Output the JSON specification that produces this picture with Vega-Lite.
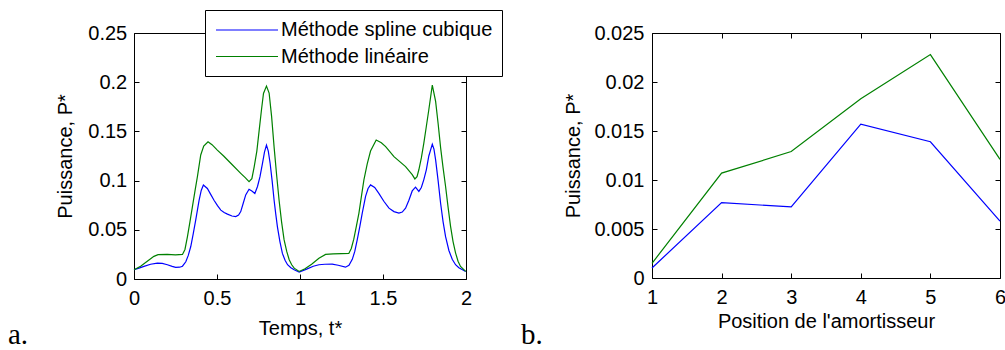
{
  "$schema": "https://vega.github.io/schema/vega-lite/v6.json",
  "padding": {"left": 7, "top": 9, "right": 0, "bottom": 0},
  "spacing": 186,
  "bounds": "flush",
  "config": {
    "font": "Liberation Sans",
    "view": {"stroke": "black", "strokeWidth": 1},
    "axis": {
      "labelFont": "Liberation Sans", "labelFontSize": 20, "labelColor": "black",
      "titleFont": "Liberation Sans", "titleFontSize": 20, "titleFontWeight": "normal", "titleColor": "black",
      "tickColor": "black", "tickSize": -5, "tickWidth": 1,
      "domain": false, "grid": false, "labelFlush": false, "labelOverlap": false
    },
    "line": {"strokeWidth": 1.2}
  },
  "datasets": {
    "a": [
      {"t":0.000,"methode":"Méthode linéaire","P":0.0094},
      {"t":0.040,"methode":"Méthode linéaire","P":0.0130},
      {"t":0.080,"methode":"Méthode linéaire","P":0.0180},
      {"t":0.120,"methode":"Méthode linéaire","P":0.0230},
      {"t":0.145,"methode":"Méthode linéaire","P":0.0248},
      {"t":0.200,"methode":"Méthode linéaire","P":0.0250},
      {"t":0.250,"methode":"Méthode linéaire","P":0.0246},
      {"t":0.292,"methode":"Méthode linéaire","P":0.0250},
      {"t":0.307,"methode":"Méthode linéaire","P":0.0300},
      {"t":0.322,"methode":"Méthode linéaire","P":0.0430},
      {"t":0.337,"methode":"Méthode linéaire","P":0.0580},
      {"t":0.352,"methode":"Méthode linéaire","P":0.0736},
      {"t":0.367,"methode":"Méthode linéaire","P":0.0890},
      {"t":0.382,"methode":"Méthode linéaire","P":0.1040},
      {"t":0.402,"methode":"Méthode linéaire","P":0.1260},
      {"t":0.420,"methode":"Méthode linéaire","P":0.1350},
      {"t":0.446,"methode":"Méthode linéaire","P":0.1395},
      {"t":0.470,"methode":"Méthode linéaire","P":0.1365},
      {"t":0.502,"methode":"Méthode linéaire","P":0.1310},
      {"t":0.540,"methode":"Méthode linéaire","P":0.1250},
      {"t":0.583,"methode":"Méthode linéaire","P":0.1176},
      {"t":0.643,"methode":"Méthode linéaire","P":0.1074},
      {"t":0.670,"methode":"Méthode linéaire","P":0.1030},
      {"t":0.693,"methode":"Méthode linéaire","P":0.0990},
      {"t":0.710,"methode":"Méthode linéaire","P":0.1020},
      {"t":0.724,"methode":"Méthode linéaire","P":0.1140},
      {"t":0.740,"methode":"Méthode linéaire","P":0.1300},
      {"t":0.754,"methode":"Méthode linéaire","P":0.1510},
      {"t":0.768,"methode":"Méthode linéaire","P":0.1720},
      {"t":0.780,"methode":"Méthode linéaire","P":0.1886},
      {"t":0.798,"methode":"Méthode linéaire","P":0.1960},
      {"t":0.814,"methode":"Méthode linéaire","P":0.1890},
      {"t":0.829,"methode":"Méthode linéaire","P":0.1650},
      {"t":0.844,"methode":"Méthode linéaire","P":0.1340},
      {"t":0.859,"methode":"Méthode linéaire","P":0.1060},
      {"t":0.874,"methode":"Méthode linéaire","P":0.0800},
      {"t":0.889,"methode":"Méthode linéaire","P":0.0580},
      {"t":0.904,"methode":"Méthode linéaire","P":0.0400},
      {"t":0.920,"methode":"Méthode linéaire","P":0.0280},
      {"t":0.935,"methode":"Méthode linéaire","P":0.0196},
      {"t":0.950,"methode":"Méthode linéaire","P":0.0145},
      {"t":0.965,"methode":"Méthode linéaire","P":0.0110},
      {"t":0.995,"methode":"Méthode linéaire","P":0.0077},
      {"t":1.030,"methode":"Méthode linéaire","P":0.0105},
      {"t":1.070,"methode":"Méthode linéaire","P":0.0150},
      {"t":1.114,"methode":"Méthode linéaire","P":0.0210},
      {"t":1.154,"methode":"Méthode linéaire","P":0.0250},
      {"t":1.200,"methode":"Méthode linéaire","P":0.0255},
      {"t":1.250,"methode":"Méthode linéaire","P":0.0258},
      {"t":1.294,"methode":"Méthode linéaire","P":0.0260},
      {"t":1.309,"methode":"Méthode linéaire","P":0.0310},
      {"t":1.324,"methode":"Méthode linéaire","P":0.0405},
      {"t":1.340,"methode":"Méthode linéaire","P":0.0540},
      {"t":1.355,"methode":"Méthode linéaire","P":0.0670},
      {"t":1.370,"methode":"Méthode linéaire","P":0.0840},
      {"t":1.385,"methode":"Méthode linéaire","P":0.1007},
      {"t":1.405,"methode":"Méthode linéaire","P":0.1170},
      {"t":1.425,"methode":"Méthode linéaire","P":0.1300},
      {"t":1.459,"methode":"Méthode linéaire","P":0.1412},
      {"t":1.490,"methode":"Méthode linéaire","P":0.1385},
      {"t":1.516,"methode":"Méthode linéaire","P":0.1345},
      {"t":1.566,"methode":"Méthode linéaire","P":0.1243},
      {"t":1.636,"methode":"Méthode linéaire","P":0.1142},
      {"t":1.676,"methode":"Méthode linéaire","P":0.1060},
      {"t":1.692,"methode":"Méthode linéaire","P":0.1017},
      {"t":1.705,"methode":"Méthode linéaire","P":0.1040},
      {"t":1.716,"methode":"Méthode linéaire","P":0.1110},
      {"t":1.731,"methode":"Méthode linéaire","P":0.1230},
      {"t":1.746,"methode":"Méthode linéaire","P":0.1380},
      {"t":1.761,"methode":"Méthode linéaire","P":0.1550},
      {"t":1.776,"methode":"Méthode linéaire","P":0.1720},
      {"t":1.797,"methode":"Méthode linéaire","P":0.1970},
      {"t":1.817,"methode":"Méthode linéaire","P":0.1805},
      {"t":1.832,"methode":"Méthode linéaire","P":0.1580},
      {"t":1.847,"methode":"Méthode linéaire","P":0.1335},
      {"t":1.862,"methode":"Méthode linéaire","P":0.1130},
      {"t":1.877,"methode":"Méthode linéaire","P":0.0940},
      {"t":1.892,"methode":"Méthode linéaire","P":0.0730},
      {"t":1.907,"methode":"Méthode linéaire","P":0.0535},
      {"t":1.922,"methode":"Méthode linéaire","P":0.0380},
      {"t":1.937,"methode":"Méthode linéaire","P":0.0266},
      {"t":1.952,"methode":"Méthode linéaire","P":0.0180},
      {"t":1.967,"methode":"Méthode linéaire","P":0.0128},
      {"t":1.998,"methode":"Méthode linéaire","P":0.0077},
      {"t":0.000,"methode":"Méthode spline cubique","P":0.0094},
      {"t":0.030,"methode":"Méthode spline cubique","P":0.0110},
      {"t":0.060,"methode":"Méthode spline cubique","P":0.0128},
      {"t":0.100,"methode":"Méthode spline cubique","P":0.0150},
      {"t":0.141,"methode":"Méthode spline cubique","P":0.0162},
      {"t":0.170,"methode":"Méthode spline cubique","P":0.0158},
      {"t":0.201,"methode":"Méthode spline cubique","P":0.0145},
      {"t":0.230,"methode":"Méthode spline cubique","P":0.0128},
      {"t":0.251,"methode":"Méthode spline cubique","P":0.0118},
      {"t":0.275,"methode":"Méthode spline cubique","P":0.0120},
      {"t":0.292,"methode":"Méthode spline cubique","P":0.0130},
      {"t":0.312,"methode":"Méthode spline cubique","P":0.0175},
      {"t":0.327,"methode":"Méthode spline cubique","P":0.0240},
      {"t":0.342,"methode":"Méthode spline cubique","P":0.0330},
      {"t":0.357,"methode":"Méthode spline cubique","P":0.0460},
      {"t":0.372,"methode":"Méthode spline cubique","P":0.0600},
      {"t":0.392,"methode":"Méthode spline cubique","P":0.0800},
      {"t":0.405,"methode":"Méthode spline cubique","P":0.0900},
      {"t":0.418,"methode":"Méthode spline cubique","P":0.0956},
      {"t":0.442,"methode":"Méthode spline cubique","P":0.0920},
      {"t":0.462,"methode":"Méthode spline cubique","P":0.0860},
      {"t":0.482,"methode":"Méthode spline cubique","P":0.0800},
      {"t":0.503,"methode":"Méthode spline cubique","P":0.0745},
      {"t":0.523,"methode":"Méthode spline cubique","P":0.0700},
      {"t":0.543,"methode":"Méthode spline cubique","P":0.0675},
      {"t":0.563,"methode":"Méthode spline cubique","P":0.0659},
      {"t":0.590,"methode":"Méthode spline cubique","P":0.0640},
      {"t":0.613,"methode":"Méthode spline cubique","P":0.0635},
      {"t":0.630,"methode":"Méthode spline cubique","P":0.0650},
      {"t":0.643,"methode":"Méthode spline cubique","P":0.0685},
      {"t":0.658,"methode":"Méthode spline cubique","P":0.0770},
      {"t":0.673,"methode":"Méthode spline cubique","P":0.0855},
      {"t":0.693,"methode":"Méthode spline cubique","P":0.0912},
      {"t":0.710,"methode":"Méthode spline cubique","P":0.0895},
      {"t":0.728,"methode":"Méthode spline cubique","P":0.0870},
      {"t":0.744,"methode":"Méthode spline cubique","P":0.0940},
      {"t":0.759,"methode":"Méthode spline cubique","P":0.1040},
      {"t":0.774,"methode":"Méthode spline cubique","P":0.1176},
      {"t":0.786,"methode":"Méthode spline cubique","P":0.1290},
      {"t":0.798,"methode":"Méthode spline cubique","P":0.1360},
      {"t":0.809,"methode":"Méthode spline cubique","P":0.1300},
      {"t":0.820,"methode":"Méthode spline cubique","P":0.1176},
      {"t":0.832,"methode":"Méthode spline cubique","P":0.1000},
      {"t":0.844,"methode":"Méthode spline cubique","P":0.0800},
      {"t":0.854,"methode":"Méthode spline cubique","P":0.0660},
      {"t":0.864,"methode":"Méthode spline cubique","P":0.0530},
      {"t":0.879,"methode":"Méthode spline cubique","P":0.0380},
      {"t":0.894,"methode":"Méthode spline cubique","P":0.0260},
      {"t":0.910,"methode":"Méthode spline cubique","P":0.0190},
      {"t":0.925,"methode":"Méthode spline cubique","P":0.0145},
      {"t":0.945,"methode":"Méthode spline cubique","P":0.0115},
      {"t":0.965,"methode":"Méthode spline cubique","P":0.0094},
      {"t":0.995,"methode":"Méthode spline cubique","P":0.0070},
      {"t":1.040,"methode":"Méthode spline cubique","P":0.0100},
      {"t":1.080,"methode":"Méthode spline cubique","P":0.0130},
      {"t":1.114,"methode":"Méthode spline cubique","P":0.0145},
      {"t":1.150,"methode":"Méthode spline cubique","P":0.0150},
      {"t":1.194,"methode":"Méthode spline cubique","P":0.0152},
      {"t":1.230,"methode":"Méthode spline cubique","P":0.0140},
      {"t":1.274,"methode":"Méthode spline cubique","P":0.0120},
      {"t":1.295,"methode":"Méthode spline cubique","P":0.0140},
      {"t":1.315,"methode":"Méthode spline cubique","P":0.0200},
      {"t":1.330,"methode":"Méthode spline cubique","P":0.0280},
      {"t":1.345,"methode":"Méthode spline cubique","P":0.0400},
      {"t":1.360,"methode":"Méthode spline cubique","P":0.0530},
      {"t":1.375,"methode":"Méthode spline cubique","P":0.0670},
      {"t":1.395,"methode":"Méthode spline cubique","P":0.0840},
      {"t":1.410,"methode":"Méthode spline cubique","P":0.0920},
      {"t":1.425,"methode":"Méthode spline cubique","P":0.0956},
      {"t":1.450,"methode":"Méthode spline cubique","P":0.0930},
      {"t":1.475,"methode":"Méthode spline cubique","P":0.0870},
      {"t":1.505,"methode":"Méthode spline cubique","P":0.0790},
      {"t":1.536,"methode":"Méthode spline cubique","P":0.0720},
      {"t":1.566,"methode":"Méthode spline cubique","P":0.0685},
      {"t":1.596,"methode":"Méthode spline cubique","P":0.0670},
      {"t":1.616,"methode":"Méthode spline cubique","P":0.0680},
      {"t":1.636,"methode":"Méthode spline cubique","P":0.0720},
      {"t":1.656,"methode":"Méthode spline cubique","P":0.0800},
      {"t":1.676,"methode":"Méthode spline cubique","P":0.0895},
      {"t":1.696,"methode":"Méthode spline cubique","P":0.0933},
      {"t":1.716,"methode":"Méthode spline cubique","P":0.0890},
      {"t":1.731,"methode":"Méthode spline cubique","P":0.0930},
      {"t":1.746,"methode":"Méthode spline cubique","P":0.1010},
      {"t":1.761,"methode":"Méthode spline cubique","P":0.1110},
      {"t":1.776,"methode":"Méthode spline cubique","P":0.1250},
      {"t":1.797,"methode":"Méthode spline cubique","P":0.1370},
      {"t":1.807,"methode":"Méthode spline cubique","P":0.1320},
      {"t":1.817,"methode":"Méthode spline cubique","P":0.1210},
      {"t":1.832,"methode":"Méthode spline cubique","P":0.1000},
      {"t":1.847,"methode":"Méthode spline cubique","P":0.0770},
      {"t":1.862,"methode":"Méthode spline cubique","P":0.0580},
      {"t":1.877,"methode":"Méthode spline cubique","P":0.0430},
      {"t":1.897,"methode":"Méthode spline cubique","P":0.0290},
      {"t":1.917,"methode":"Méthode spline cubique","P":0.0200},
      {"t":1.937,"methode":"Méthode spline cubique","P":0.0145},
      {"t":1.957,"methode":"Méthode spline cubique","P":0.0115},
      {"t":1.998,"methode":"Méthode spline cubique","P":0.0077}
    ],
    "b": [
      {"pos":1,"methode":"Méthode spline cubique","P":0.00102},
      {"pos":2,"methode":"Méthode spline cubique","P":0.0077},
      {"pos":3,"methode":"Méthode spline cubique","P":0.00725},
      {"pos":4,"methode":"Méthode spline cubique","P":0.0157},
      {"pos":5,"methode":"Méthode spline cubique","P":0.0139},
      {"pos":6,"methode":"Méthode spline cubique","P":0.0058},
      {"pos":1,"methode":"Méthode linéaire","P":0.0015},
      {"pos":2,"methode":"Méthode linéaire","P":0.0107},
      {"pos":3,"methode":"Méthode linéaire","P":0.0129},
      {"pos":4,"methode":"Méthode linéaire","P":0.0183},
      {"pos":5,"methode":"Méthode linéaire","P":0.0228},
      {"pos":6,"methode":"Méthode linéaire","P":0.0121}
    ]
  },
  "hconcat": [
    {
      "width": 332,
      "height": 246,
      "title": {"text": "a.", "orient": "bottom", "anchor": "start", "frame": "group", "dx": -126, "offset": 6, "baseline": "alphabetic", "font": "Liberation Serif", "fontSize": 29, "fontWeight": "normal", "color": "black"},
      "data": {"name": "a"},
      "layer": [
        {
          "transform": [{"filter": {"field": "methode", "equal": "Méthode spline cubique"}}],
          "mark": {"type": "line", "strokeWidth": 1.2},
          "encoding": {
            "x": {"field": "t", "type": "quantitative", "scale": {"domain": [0, 2], "nice": false},
                  "axis": {"orient": "bottom", "values": [0, 0.5, 1, 1.5, 2], "format": "~g", "title": "Temps, t*", "labelPadding": 14, "titlePadding": 10}},
            "y": {"field": "P", "type": "quantitative", "scale": {"domain": [0, 0.25], "nice": false},
                  "axis": {"orient": "left", "values": [0, 0.05, 0.1, 0.15, 0.2, 0.25], "format": "~g", "title": "Puissance, P*", "labelPadding": 12.3, "titlePadding": 12}},
            "color": {"field": "methode", "type": "nominal",
                      "scale": {"domain": ["Méthode spline cubique", "Méthode linéaire"], "range": ["#0000ff", "#008000"]},
                      "legend": {"orient": "none", "legendX": 71, "legendY": -23, "title": null, "direction": "vertical",
                                 "symbolType": "M-3.1,0H3.1", "symbolSize": 400, "symbolStrokeWidth": 1.4, "symbolOffset": 22,
                                 "labelFont": "Liberation Sans", "labelFontSize": 20, "labelColor": "black", "labelOffset": 23, "labelLimit": 400,
                                 "padding": 9, "strokeColor": "black", "fillColor": "white", "rowPadding": 5.5}}
          }
        },
        {
          "transform": [{"filter": {"field": "methode", "equal": "Méthode linéaire"}}],
          "mark": {"type": "line", "strokeWidth": 1.2},
          "encoding": {
            "x": {"field": "t", "type": "quantitative",
                  "axis": {"orient": "top", "values": [0, 0.5, 1, 1.5, 2], "labels": false, "title": null}},
            "y": {"field": "P", "type": "quantitative",
                  "axis": {"orient": "right", "values": [0, 0.05, 0.1, 0.15, 0.2, 0.25], "labels": false, "title": null}},
            "color": {"field": "methode", "type": "nominal"}
          }
        }
      ]
    },
    {
      "width": 348,
      "height": 245,
      "title": {"text": "b.", "orient": "bottom", "anchor": "start", "frame": "group", "dx": -131, "offset": 13, "baseline": "alphabetic", "font": "Liberation Serif", "fontSize": 29, "fontWeight": "normal", "color": "black"},
      "data": {"name": "b"},
      "layer": [
        {
          "transform": [{"filter": {"field": "methode", "equal": "Méthode spline cubique"}}],
          "mark": {"type": "line", "strokeWidth": 1.2, "color": "#0000ff"},
          "encoding": {
            "x": {"field": "pos", "type": "quantitative", "scale": {"domain": [1, 6], "nice": false},
                  "axis": {"orient": "bottom", "values": [1, 2, 3, 4, 5, 6], "title": "Position de l'amortisseur", "labelPadding": 14, "titlePadding": 4}},
            "y": {"field": "P", "type": "quantitative", "scale": {"domain": [0, 0.025], "nice": false},
                  "axis": {"orient": "left", "values": [0, 0.005, 0.01, 0.015, 0.02, 0.025], "format": "~g", "title": "Puissance, P*", "labelPadding": 13, "titlePadding": 10}}
          }
        },
        {
          "transform": [{"filter": {"field": "methode", "equal": "Méthode linéaire"}}],
          "mark": {"type": "line", "strokeWidth": 1.2, "color": "#008000"},
          "encoding": {
            "x": {"field": "pos", "type": "quantitative",
                  "axis": {"orient": "top", "values": [1, 2, 3, 4, 5, 6], "labels": false, "title": null}},
            "y": {"field": "P", "type": "quantitative",
                  "axis": {"orient": "right", "values": [0, 0.005, 0.01, 0.015, 0.02, 0.025], "labels": false, "title": null}}
          }
        }
      ]
    }
  ]
}
